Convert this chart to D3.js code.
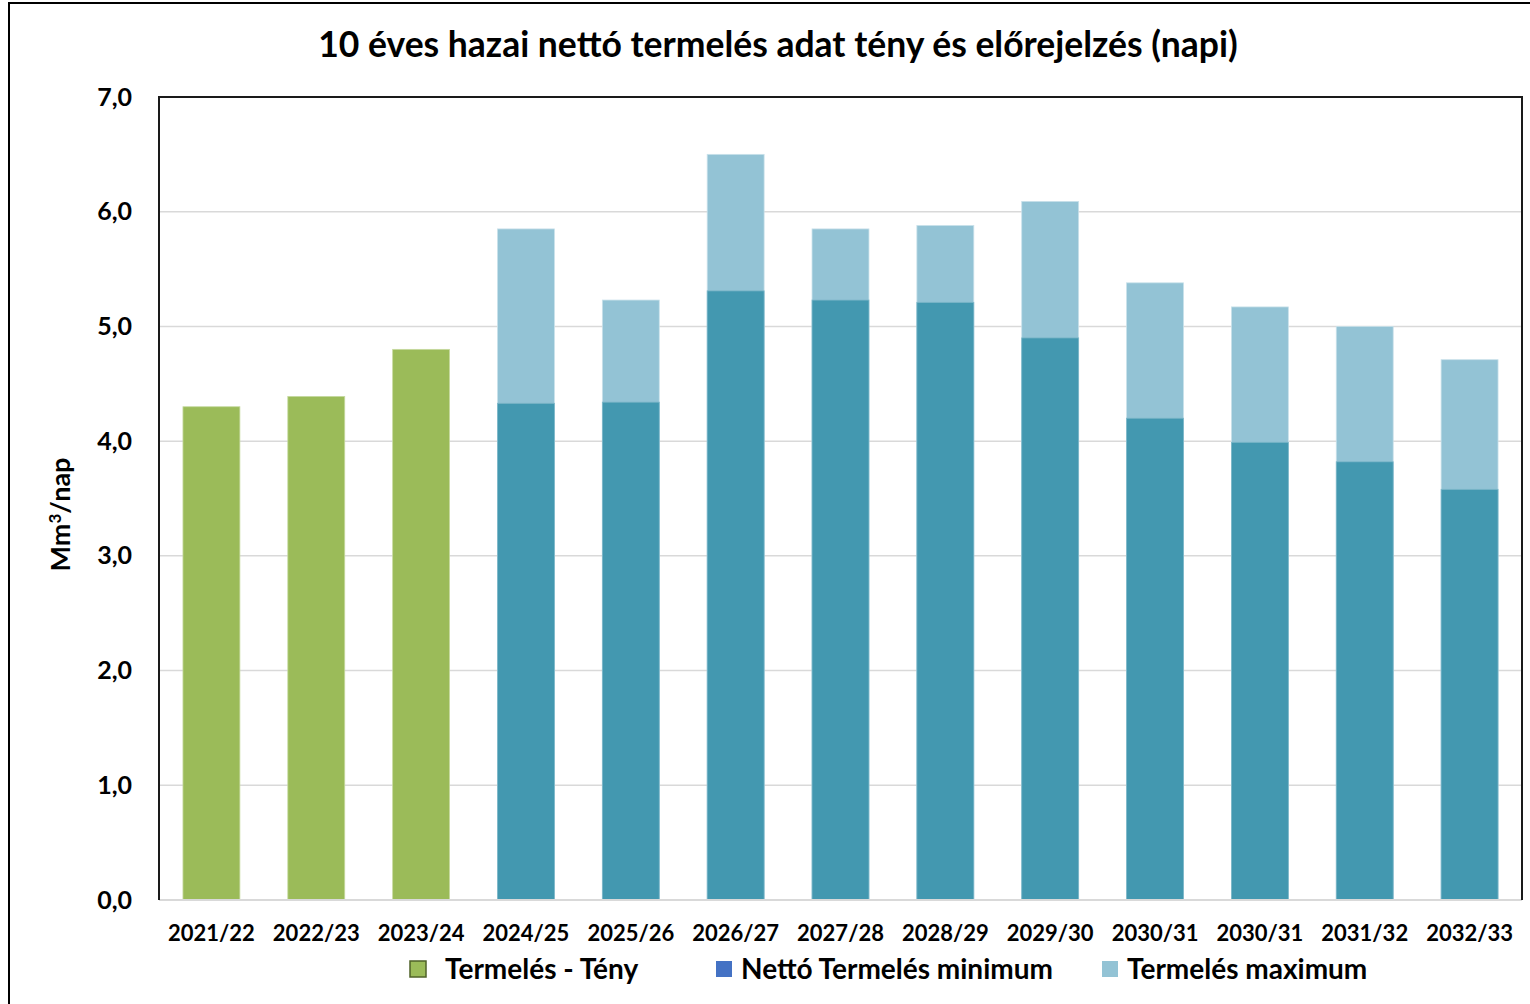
<!DOCTYPE html>
<html>
<head>
<meta charset="utf-8">
<script src="https://cdn.jsdelivr.net/npm/d3@7"></script>
<style>
  body { margin: 0; background: #fff; }
  text { font-family: Lato, "Open Sans", sans-serif; font-weight: bold; fill: #000; }
</style>
</head>
<body>
<div id="viz"></div>
<script>
// years on the x axis (the 2030/31 label is repeated in the original)
const categories = ["2021/22", "2022/23", "2023/24", "2024/25", "2025/26", "2026/27",
    "2027/28", "2028/29", "2029/30", "2030/31", "2030/31 ", "2031/32", "2032/33"];

// actual production (first three years)
const teny = [4.30, 4.39, 4.80, null, null, null, null, null, null, null, null, null, null];
// forecast minimum and maximum (top of bar)
const minimum = [null, null, null, 4.33, 4.34, 5.31, 5.23, 5.21, 4.90, 4.20, 3.99, 3.82, 3.58];
const maximum = [null, null, null, 5.85, 5.23, 6.50, 5.85, 5.88, 6.09, 5.38, 5.17, 5.00, 4.71];

const yTicks = [0, 1, 2, 3, 4, 5, 6, 7];
const legendItems = [
    { label: "Termelés - Tény", color: "#9BBB59", stroke: "#4F6228" },
    { label: "Nettó Termelés minimum", color: "#4472C4", stroke: "none" },
    { label: "Termelés maximum", color: "#93C3D5", stroke: "none" }
];

const width = 1530, height = 1004;
const margin = { left: 159, right: 8, top: 97, bottom: 104 };

const svg = d3.select("#viz")
    .append("svg")
    .attr("width", width)
    .attr("height", height);

// outer chart border
svg.append("rect")
    .attr("x", 9).attr("y", 3)
    .attr("width", 1540).attr("height", 1020)
    .attr("fill", "none")
    .attr("stroke", "#000")
    .attr("stroke-width", 2);

const xScale = d3.scaleBand()
    .domain(categories)
    .range([margin.left, width - margin.right])
    .paddingInner(0.457)
    .paddingOuter(0.2285);

const yScale = d3.scaleLinear()
    .domain([0, 7])
    .range([height - margin.bottom, margin.top]);

// gridlines
svg.append("g")
    .selectAll("line")
    .data(yTicks.slice(1))
    .enter()
    .append("line")
    .attr("x1", margin.left)
    .attr("x2", width - margin.right)
    .attr("y1", (d) => yScale(d))
    .attr("y2", (d) => yScale(d))
    .attr("stroke", "#D9D9D9")
    .attr("stroke-width", 1.5);

// max bars (light), drawn behind the min bars
svg.selectAll(".bar-max")
    .data(categories.map((c, i) => ({ c, v: maximum[i] })).filter((d) => d.v != null))
    .enter()
    .append("rect")
    .attr("x", (d) => xScale(d.c))
    .attr("y", (d) => yScale(d.v))
    .attr("width", xScale.bandwidth())
    .attr("height", (d) => yScale(0) - yScale(d.v))
    .attr("fill", "#93C3D5")
    .attr("stroke", "#C9E1EA")
    .attr("stroke-width", 0.8);

svg.selectAll(".bar-min")
    .data(categories.map((c, i) => ({ c, v: minimum[i] })).filter((d) => d.v != null))
    .enter()
    .append("rect")
    .attr("x", (d) => xScale(d.c))
    .attr("y", (d) => yScale(d.v))
    .attr("width", xScale.bandwidth())
    .attr("height", (d) => yScale(0) - yScale(d.v))
    .attr("fill", "#4398B0")
    .attr("stroke", "#7FB8CA")
    .attr("stroke-width", 0.8);

svg.selectAll(".bar-teny")
    .data(categories.map((c, i) => ({ c, v: teny[i] })).filter((d) => d.v != null))
    .enter()
    .append("rect")
    .attr("x", (d) => xScale(d.c))
    .attr("y", (d) => yScale(d.v))
    .attr("width", xScale.bandwidth())
    .attr("height", (d) => yScale(0) - yScale(d.v))
    .attr("fill", "#9BBB59")
    .attr("stroke", "#C6DAA0")
    .attr("stroke-width", 0.8);

// bottom axis line
svg.append("line")
    .attr("x1", margin.left).attr("x2", width - margin.right)
    .attr("y1", yScale(0)).attr("y2", yScale(0))
    .attr("stroke", "#D9D9D9")
    .attr("stroke-width", 2);

// plot frame: left, top, right
svg.append("path")
    .attr("d", `M${margin.left},${yScale(0)}V${margin.top}H${width - margin.right}V${yScale(0)}`)
    .attr("fill", "none")
    .attr("stroke", "#1a1a1a")
    .attr("stroke-width", 2);

// x axis labels
const xAxis = svg.append("g")
    .attr("transform", `translate(0,${yScale(0)})`)
    .call(d3.axisBottom(xScale).tickSize(0).tickPadding(25).tickFormat((d) => d.trim()));
xAxis.select(".domain").remove();
xAxis.selectAll("text")
    .style("font-size", "22px")
    .style("font-family", "Lato, sans-serif")
    .attr("dy", "0.71em");

// y axis labels
const yAxis = svg.append("g")
    .attr("transform", `translate(${margin.left},0)`)
    .call(d3.axisLeft(yScale).tickValues(yTicks).tickSize(0).tickPadding(27)
        .tickFormat((d) => d3.format(".1f")(d).replace(".", ",")));
yAxis.select(".domain").remove();
yAxis.selectAll("text")
    .style("font-size", "25px")
    .style("font-family", "Lato, sans-serif");

// y axis title
const yTitle = svg.append("text")
    .attr("transform", `translate(70,${(margin.top + yScale(0)) / 2 + 16}) rotate(-90)`)
    .attr("text-anchor", "middle")
    .style("font-size", "27px");
yTitle.append("tspan").text("Mm");
yTitle.append("tspan").text("3").attr("dy", -9).style("font-size", "17px");
yTitle.append("tspan").text("/nap").attr("dy", 9);

// title
svg.append("text")
    .attr("x", 778)
    .attr("y", 57)
    .attr("text-anchor", "middle")
    .style("font-size", "35.5px")
    .text("10 éves hazai nettó termelés adat tény és előrejelzés (napi)");

// legend
const legendX = [410, 716, 1102];
const legend = svg.append("g");
legendItems.forEach((item, i) => {
    legend.append("rect")
        .attr("x", legendX[i])
        .attr("y", 961)
        .attr("width", 16)
        .attr("height", 16)
        .attr("fill", item.color)
        .attr("stroke", item.stroke)
        .attr("stroke-width", item.stroke === "none" ? 0 : 1.5);
    legend.append("text")
        .attr("x", legendX[i] + (i === 0 ? 35 : 25))
        .attr("y", 979)
        .style("font-size", "28px")
        .text(item.label);
});
</script>
</body>
</html>
